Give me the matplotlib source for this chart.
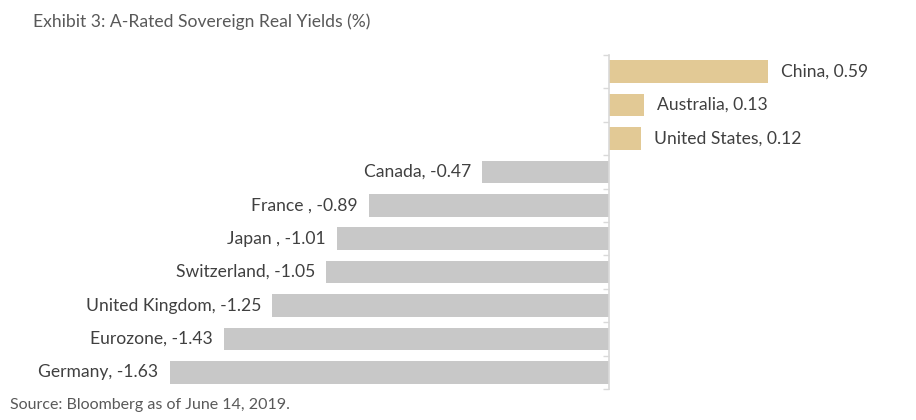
import numpy as np
import matplotlib.pyplot as plt

# datos
countries = ['China', 'Australia', 'United States', 'Canada', 'France ', 'Japan ',
             'Switzerland', 'United Kingdom', 'Eurozone', 'Germany']
yields = [0.59, 0.13, 0.12, -0.47, -0.89, -1.01, -1.05, -1.25, -1.43, -1.63]

gold = '#e2c995'
grey = '#c8c8c8'
txt = '#404040'

plt.rcParams['font.family'] = ['Lato', 'DejaVu Sans']

fig = plt.figure(figsize=(9.16, 4.2), dpi=100)
ax = fig.add_axes([0, 31 / 420, 1, 334 / 420])

y = np.arange(len(countries))
colors = [gold if v > 0 else grey for v in yields]
ax.barh(y, yields, height=0.68, color=colors)

for yi, name, v in zip(y, countries, yields):
    label = f'{name}, {v:.2f}'
    if v > 0:
        ax.annotate(label, (v, yi), xytext=(9, 0), textcoords='offset points',
                    ha='left', va='center', fontsize=12.6, color=txt)
    else:
        ax.annotate(label, (v, yi), xytext=(-8, 0), textcoords='offset points',
                    ha='right', va='center', fontsize=12.6, color=txt)

ax.set_xlim(-609 / 269.5, 307 / 269.5)
ax.set_ylim(len(countries) - 0.5, -0.5)

for s in ['top', 'right', 'bottom']:
    ax.spines[s].set_visible(False)
ax.spines['left'].set_position(('data', 0))
ax.spines['left'].set_color('#d9d9d9')
ax.spines['left'].set_linewidth(1.2)
ax.set_xticks([])
ax.set_yticks(np.arange(len(countries) + 1) - 0.5)
ax.set_yticklabels([])
ax.tick_params(axis='y', length=4, width=1, color='#d9d9d9', direction='out')
ax.patch.set_alpha(0)

fig.text(33 / 916, 1 - 22 / 420, 'Exhibit 3: A-Rated Sovereign Real Yields (%)',
         fontsize=12.6, color='#595959', va='center', ha='left')
fig.text(10 / 916, 1 - 405 / 420, 'Source: Bloomberg as of June 14, 2019.',
         fontsize=11.5, color='#595959', va='center', ha='left')

fig.savefig('out.png', dpi=100)
